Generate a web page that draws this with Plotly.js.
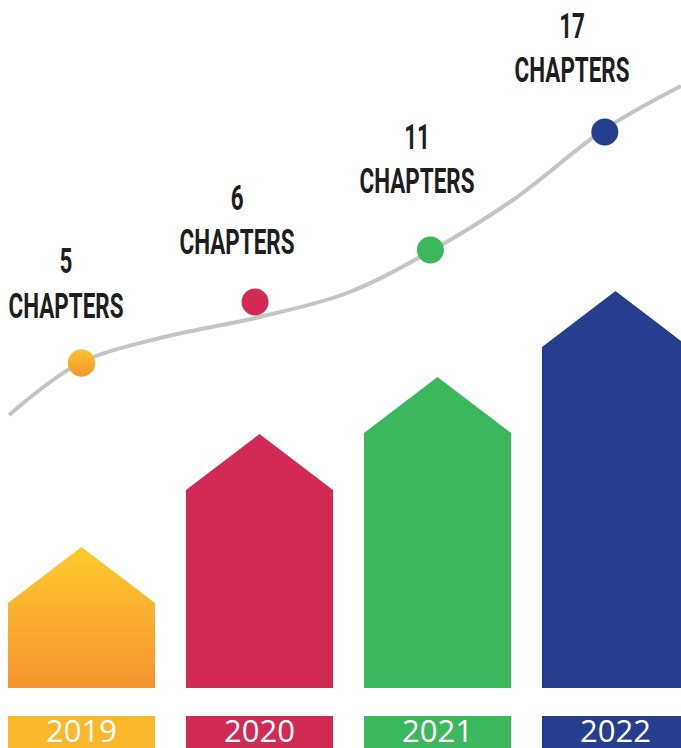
<!DOCTYPE html>
<html>
<head>
<meta charset="utf-8">
<script src="https://cdn.plot.ly/plotly-3.0.1.min.js"></script>
<style>html,body{margin:0;padding:0;background:#fff;}#chart{width:681px;height:748px;}</style>
</head>
<body>
<div id="chart"></div>
<script>
// ---- data ----
var years = ['2019', '2020', '2021', '2022'];
var chapters = [5, 6, 11, 17];
var unitLabel = 'CHAPTERS';
// visual bar level (shoulder height of each arrow bar, axis units)
var barLevel = [85, 198, 255, 341];
// dot positions on the trend line
var dotX = [0, 0.975, 1.96, 2.94];
var dotY = [325, 386, 438, 556];
// decorative trend curve
var curveX = [-0.407, -0.008, 0.441, 0.975, 1.492, 1.963, 2.424, 2.941, 3.368];
var curveY = [273, 325, 350, 370, 395, 437, 488, 559, 602];

// ---- styling ----
var colors = ['#FDC22F', '#D12B55', '#3BB75C', '#253E8D'];
var boxColors = ['#FBB82C', '#D12B55', '#3BB75C', '#253E8D'];
var halfW = 0.413, peak = 56;
var labelX = [-0.087, 0.874, 1.885, 2.756];
var numY = [424, 487, 548, 659];
var unitY = [379, 443, 504, 615];
var labelFont = {family: 'Roboto, "DejaVu Sans", sans-serif', size: 35, color: '#1e1e1e', weight: 700};

var traces = [];
years.forEach(function (yr, i) {
  var h = barLevel[i];
  var t = {
    x: [i - halfW, i - halfW, i, i + halfW, i + halfW, i - halfW],
    y: [0, h, h + peak, h, 0, 0],
    mode: 'lines', line: {width: 0}, fill: 'toself',
    fillcolor: colors[i], hoverinfo: 'skip'
  };
  if (i === 0) {
    t.fillgradient = {type: 'vertical', colorscale: [[0, '#F7932F'], [1, '#FECB2F']]};
  }
  traces.push(t);
  // year box
  traces.push({
    x: [i - halfW, i - halfW, i + halfW, i + halfW, i - halfW],
    y: [-70, -28, -28, -70, -70],
    mode: 'lines', line: {width: 0}, fill: 'toself',
    fillcolor: boxColors[i], hoverinfo: 'skip'
  });
});

// year texts
traces.push({
  x: years.map(function (_, i) { return i; }),
  y: years.map(function () { return -46.5; }),
  mode: 'text', text: years, textposition: 'middle center',
  textfont: {family: '"Open Sans", sans-serif', size: 31, color: '#ffffff', weight: 500},
  hoverinfo: 'skip'
});

// trend curve
traces.push({
  x: curveX, y: curveY, mode: 'lines',
  line: {color: '#c4c4c4', width: 4, shape: 'spline', smoothing: 1},
  hoverinfo: 'skip'
});

// dots
traces.push({
  x: dotX, y: dotY, mode: 'markers',
  marker: {size: 27, color: colors, line: {width: 0}},
  hoverinfo: 'skip'
});
traces.push({
  x: [dotX[0]], y: [dotY[0]], mode: 'markers',
  marker: {size: 27, color: '#FDC22F', line: {width: 0}, gradient: {type: 'vertical', color: '#F7962F'}},
  hoverinfo: 'skip'
});

// labels
traces.push({
  x: labelX, y: numY, mode: 'text',
  text: chapters.map(String), textposition: 'middle center',
  textfont: labelFont, hoverinfo: 'skip', name: 'numLabels'
});
traces.push({
  x: labelX, y: unitY, mode: 'text',
  text: chapters.map(function () { return unitLabel; }), textposition: 'middle center',
  textfont: labelFont, hoverinfo: 'skip', name: 'unitLabels'
});

var layout = {
  width: 681, height: 748,
  margin: {l: 0, r: 0, t: 0, b: 0},
  paper_bgcolor: '#ffffff', plot_bgcolor: '#ffffff',
  showlegend: false,
  xaxis: {range: [-0.4579, 3.368], visible: false, fixedrange: true},
  yaxis: {range: [-60, 688], visible: false, fixedrange: true}
};

Plotly.newPlot('chart', traces, layout, {displayModeBar: false, staticPlot: true}).then(function (gd) {
  // condense the label font horizontally (the original uses a condensed display face)
  var groups = gd.querySelectorAll('.scatterlayer .trace');
  var n = groups.length;
  var labelGroups = [groups[n - 2], groups[n - 1]];
  var sample = labelGroups[1].querySelector('text');
  var w = sample ? sample.getComputedTextLength() : 0;
  var k = w > 0 ? 115 / w : 0.66;
  labelGroups.forEach(function (g) {
    g.querySelectorAll('text').forEach(function (t) {
      var cx = parseFloat(t.getAttribute('x'));
      t.setAttribute('transform', 'translate(' + cx + ',0) scale(' + k + ',1) translate(' + (-cx) + ',0)');
    });
  });
});
</script>
</body>
</html>
